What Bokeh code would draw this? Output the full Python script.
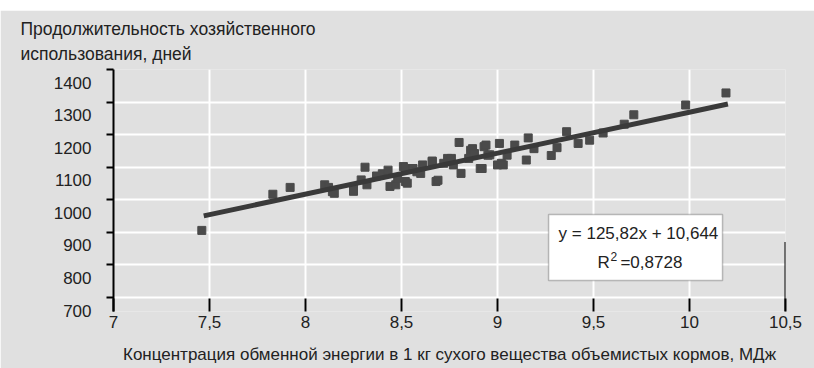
from bokeh.plotting import figure
from bokeh.models import (Range1d, FixedTicker, Label, BoxAnnotation, LinearAxis, Title, Spacer)
from bokeh.layouts import column
from bokeh.embed import file_html
from bokeh.resources import INLINE

# ---- data ----
energy = [7.46, 7.83, 7.92, 8.10, 8.12, 8.14, 8.15, 8.25, 8.25, 8.29, 8.31, 8.32, 8.37, 8.40,
          8.43, 8.44, 8.47, 8.48, 8.51, 8.52, 8.52, 8.53, 8.56, 8.58, 8.60, 8.61, 8.66, 8.66,
          8.68, 8.69, 8.72, 8.74, 8.76, 8.77, 8.80, 8.81, 8.85, 8.86, 8.87, 8.88, 8.91, 8.92,
          8.93, 8.94, 8.95, 8.96, 9.00, 9.01, 9.02, 9.03, 9.05, 9.09, 9.15, 9.16, 9.19, 9.28,
          9.31, 9.36, 9.42, 9.48, 9.55, 9.66, 9.71, 9.98, 10.19]
days = [906, 1017, 1038, 1046, 1038, 1025, 1020, 1036, 1026, 1061, 1100, 1046, 1073, 1080,
        1091, 1041, 1046, 1066, 1102, 1096, 1056, 1051, 1096, 1086, 1081, 1107, 1119, 1117,
        1056, 1060, 1112, 1127, 1127, 1107, 1176, 1081, 1127, 1152, 1157, 1142, 1096, 1096,
        1163, 1168, 1137, 1138, 1107, 1173, 1112, 1107, 1137, 1168, 1122, 1190, 1157, 1136,
        1160, 1209, 1173, 1183, 1205, 1232, 1261, 1291, 1328]

trend_slope = 125.82
trend_intercept = 10.644
trend_x = [7.47, 10.2]
trend_y = [trend_slope * v + trend_intercept for v in trend_x]

x_ticks = [7, 7.5, 8, 8.5, 9, 9.5, 10, 10.5]
x_tick_labels = ["7", "7,5", "8", "8,5", "9", "9,5", "10", "10,5"]
y_ticks = [700, 800, 900, 1000, 1100, 1200, 1300, 1400]
y_tick_labels = ["700", "800", "900", "1000", "1100", "1200", "1300", "1400"]

title_text = "Продолжительность хозяйственного\nиспользования, дней"
x_title = "Концентрация обменной энергии в 1 кг сухого вещества объемистых кормов, МДж"
eq_text = "y = 125,82x + 10,644"
r2_parts = ["R", "2", "=0,8728"]

FONT = "Liberation Sans"
BG = "#e0e0e0"
DARK = "#4a4a4a"
TXT = "#222222"

Y_LOW = 657          # frame extends a little below 700, as in the original
LABEL_DROP = 40      # y tick labels sit slightly below their ticks in the original
RIGHT_EDGE_TOP = 870 # the dark edge line at x = 10,5 only reaches partway up

p = figure(width=814, height=358, output_backend="svg", toolbar_location=None,
           x_range=Range1d(7, 10.5), y_range=Range1d(Y_LOW, 1400),
           min_border_left=113, min_border_right=29, min_border_top=57, min_border_bottom=57)
p.background_fill_color = BG
p.border_fill_color = BG
p.outline_line_color = None

# grid
p.xgrid.ticker = FixedTicker(ticks=x_ticks)
p.ygrid.ticker = FixedTicker(ticks=y_ticks)
p.grid.grid_line_color = "white"
p.grid.grid_line_width = 2

# x axis: inward ticks + labels, no line
xa = p.xaxis[0]
xa.ticker = FixedTicker(ticks=x_ticks)
xa.major_label_overrides = {t: l for t, l in zip(x_ticks, x_tick_labels)}
xa.axis_line_color = None
xa.major_tick_in = 13
xa.major_tick_out = 0
xa.major_tick_line_width = 2
xa.major_tick_line_color = "black"
xa.minor_tick_line_color = None
xa.major_label_text_font = FONT
xa.major_label_text_font_size = "17px"
xa.major_label_text_color = TXT
xa.major_label_standoff = 4
xa.axis_label = x_title
xa.axis_label_text_font = FONT
xa.axis_label_text_font_size = "17px"
xa.axis_label_text_font_style = "normal"
xa.axis_label_text_color = TXT
xa.axis_label_standoff = 14

# y axis: line + outward ticks only
ya = p.yaxis[0]
ya.ticker = FixedTicker(ticks=y_ticks)
ya.axis_line_color = "black"
ya.axis_line_width = 2
ya.major_tick_in = 0
ya.major_tick_out = 7
ya.major_tick_line_width = 2
ya.minor_tick_line_color = None
ya.major_label_text_font_size = "0px"
ya.major_label_text_color = None
ya.major_label_standoff = 0

# y tick labels on a companion axis whose range is shifted so they sit a little low
p.extra_y_ranges = {"labels": Range1d(Y_LOW + LABEL_DROP, 1400 + LABEL_DROP)}
la = LinearAxis(y_range_name="labels", ticker=FixedTicker(ticks=y_ticks))
la.major_label_overrides = {t: l for t, l in zip(y_ticks, y_tick_labels)}
la.axis_line_color = None
la.major_tick_line_color = None
la.minor_tick_line_color = None
la.major_tick_in = 0
la.major_tick_out = 0
la.major_label_standoff = 15
la.major_label_text_font = FONT
la.major_label_text_font_size = "17px"
la.major_label_text_color = TXT
p.add_layout(la, "left")

# right edge line at the last x tick
p.segment(x0=[x_ticks[-1]], y0=[Y_LOW], x1=[x_ticks[-1]], y1=[RIGHT_EDGE_TOP],
          line_color="black", line_width=2)

# data
p.scatter(energy, days, marker="square", size=8, fill_color=DARK, line_color=DARK)
p.line(trend_x, trend_y, line_width=5, line_color="#3a3a3a")

# equation box
BOX_CX = 9.734
p.add_layout(BoxAnnotation(left=9.266, right=10.172, top=955, bottom=752,
                           fill_color="white", fill_alpha=1, line_color="#333333",
                           line_width=1.5, level="overlay"))
p.add_layout(Label(x=BOX_CX, y=895, text=eq_text, text_align="center", text_baseline="middle",
                   text_font=FONT, text_font_size="17px", text_color=TXT, level="overlay"))
p.add_layout(Label(x=BOX_CX, y=806, x_offset=-41, text=r2_parts[0], text_align="left",
                   text_baseline="middle", text_font=FONT, text_font_size="17px",
                   text_color=TXT, level="overlay"))
p.add_layout(Label(x=BOX_CX, y=806, x_offset=-28, y_offset=6, text=r2_parts[1], text_align="left",
                   text_baseline="middle", text_font=FONT, text_font_size="12px",
                   text_color=TXT, level="overlay"))
p.add_layout(Label(x=BOX_CX, y=806, x_offset=-18, text=r2_parts[2], text_align="left",
                   text_baseline="middle", text_font=FONT, text_font_size="17px",
                   text_color=TXT, level="overlay"))

# chart title (top-left)
t = Title(text=title_text, align="left", offset=-93, standoff=12,
          text_font=FONT, text_font_size="17.5px", text_font_style="normal",
          text_color=TXT, text_line_height=1.25)
p.add_layout(t, "above")

layout = column(Spacer(width=814, height=10), p)
open("out.html", "w").write(file_html(layout, INLINE))
